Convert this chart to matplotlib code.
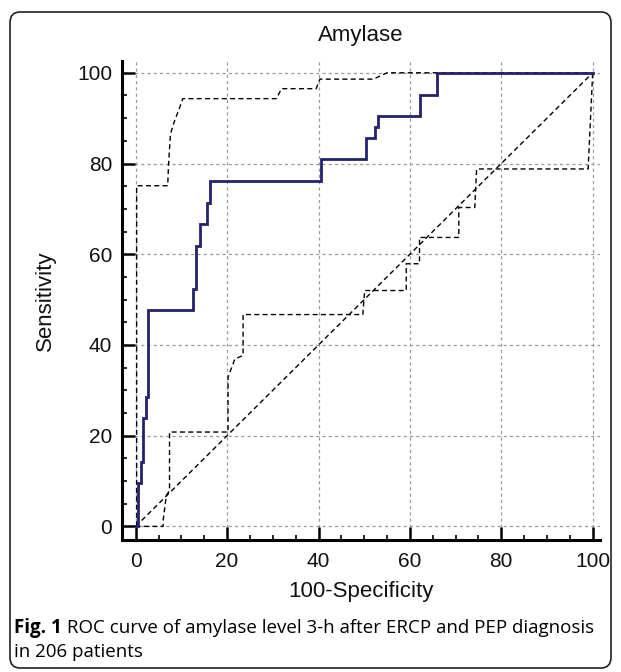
import numpy as np
import matplotlib as mpl
import matplotlib.pyplot as plt
from matplotlib.patches import FancyBboxPatch
from matplotlib.ticker import MultipleLocator

# ROC curve (100-specificity, sensitivity), step vertices
roc_fpr = [0, 0.5, 1.1, 1.6, 2.2, 2.7, 12.5, 13.3, 14.0, 15.5, 16.2, 40.5, 50.3, 52.4, 53.0, 62.2, 66.0, 100]
roc_sens = [0, 9.5, 14.3, 23.8, 28.6, 47.6, 52.4, 61.9, 66.7, 71.4, 76.2, 81.0, 85.7, 88.1, 90.5, 95.2, 100, 100]

# upper confidence bound
upper_fpr = [0.2, 0.2, 7.0, 7.2, 7.6, 8.5, 9.6, 10.3, 30.8, 31.9, 39.5, 40.3, 52.0, 55.0, 100]
upper_sens = [0, 75.1, 75.1, 80.0, 86.5, 89.4, 92.3, 94.3, 94.3, 96.5, 96.5, 98.6, 98.6, 100, 100]

# lower confidence bound
lower_fpr = [0, 6.0, 6.0, 6.7, 7.4, 7.4, 20.2, 20.2, 21.7, 23.5, 23.5, 49.7, 50.1, 59.2, 59.2,
             62.1, 62.1, 70.7, 70.7, 74.2, 74.6, 99.0, 100]
lower_sens = [0, 0, 1.3, 6.8, 7.9, 20.8, 20.8, 32.9, 36.9, 37.7, 46.7, 46.7, 52.0, 52.0, 57.9,
              57.9, 63.7, 63.7, 70.3, 70.3, 78.8, 78.8, 100]

title = "Amylase"
xlabel = "100-Specificity"
ylabel = "Sensitivity"
caption_bold = "Fig. 1"
caption_rest = " ROC curve of amylase level 3-h after ERCP and PEP diagnosis"
caption_line2 = "in 206 patients"

W, H = 621, 672
fig = plt.figure(figsize=(W / 100, H / 100), dpi=100)

# frame around figure + caption
fig.patches.append(FancyBboxPatch(
    (10 / W, 4 / H), 601 / W, 656 / H,
    boxstyle="round,pad=0,rounding_size=0.016",
    transform=fig.transFigure, fill=False, edgecolor="#222222", linewidth=1.2
))

ax = fig.add_axes([122 / W, (H - 540) / H, 478 / W, 479 / H])

cis = dict(color="black", linewidth=1.0, linestyle=(0, (3.6, 2.4)))
ax.plot([0, 100], [0, 100], **cis)
ax.plot(upper_fpr, upper_sens, **cis)
ax.plot(lower_fpr, lower_sens, **cis)
ax.plot(roc_fpr, roc_sens, drawstyle="steps-post", color="#23226e", linewidth=2.0,
        solid_joinstyle="miter")

ax.set_xlim(-3, 101.6)
ax.set_ylim(-3, 102.6)
ax.xaxis.set_major_locator(MultipleLocator(20))
ax.yaxis.set_major_locator(MultipleLocator(20))
ax.xaxis.set_minor_locator(MultipleLocator(5))
ax.yaxis.set_minor_locator(MultipleLocator(5))
ax.tick_params(which="major", direction="in", length=9.5, width=1.8, labelsize=15,
               color="black", labelcolor="#111111")
ax.tick_params(axis="x", which="major", pad=8.5)
ax.tick_params(axis="y", which="major", pad=7)
ax.tick_params(which="minor", direction="in", length=3.5, width=1.2, color="black")
for lab in ax.get_xticklabels() + ax.get_yticklabels():
    lab.set_family("Liberation Sans")

ax.grid(True, which="major", color="#9a9a9a", linewidth=0.9, linestyle=(0, (2.5, 2.5)))
for side in ["top", "right"]:
    ax.spines[side].set_visible(False)
for side in ["left", "bottom"]:
    ax.spines[side].set_linewidth(2.2)

fig.text((122 + 239) / W, 1 - 35 / H, title, family="Liberation Sans", fontsize=16,
         ha="center", va="center", color="#111111")
ax.set_xlabel(xlabel, family="Liberation Sans", fontsize=16, color="#111111", va="center")
ax.set_ylabel(ylabel, family="Liberation Sans", fontsize=16, color="#111111", va="center")
ax.xaxis.set_label_coords(0.5, (540 - 592) / 479)
ax.yaxis.set_label_coords((45 - 122) / 478, 0.5)

# caption
cap_size = 13.5
t1 = fig.text(14 / W, 1 - 628 / H, caption_bold, fontsize=cap_size, fontweight="bold",
              family="Open Sans", va="center")
fig.canvas.draw()
bb = t1.get_window_extent()
fig.text(bb.x1 / W, 1 - 628 / H, caption_rest, fontsize=cap_size, family="Open Sans", va="center")
fig.text(14 / W, 1 - 652 / H, caption_line2, fontsize=cap_size, family="Open Sans", va="center")

fig.savefig("out.png", dpi=100)
